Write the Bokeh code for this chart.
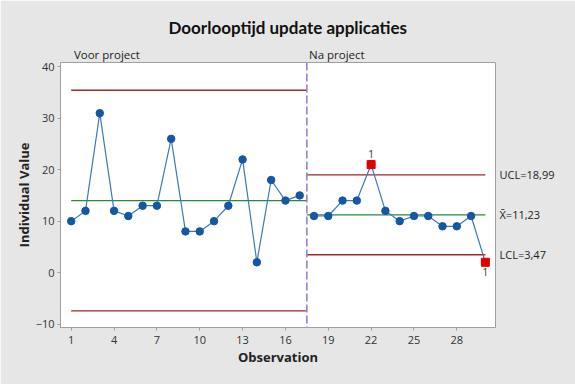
from bokeh.plotting import figure
from bokeh.models import Range1d, FixedTicker, Span, Label, LinearAxis
from bokeh.embed import file_html
from bokeh.resources import INLINE

# ---- data ----
chart_title = "Doorlooptijd update applicaties"
stage_names = ["Voor project", "Na project"]
obs_before = list(range(1, 18))
val_before = [10, 12, 31, 12, 11, 13, 13, 26, 8, 8, 10, 13, 22, 2, 18, 14, 15]
obs_after = list(range(18, 31))
val_after = [11, 11, 14, 14, 21, 12, 10, 11, 11, 9, 9, 11, 2]
stage_start = [1, 17.5]
stage_end = [17.5, 30]
ucl = [35.45, 18.99]
center = [14.0, 11.23]
lcl = [-7.45, 3.47]
flag_obs = [22, 30]
flag_val = [21, 2]
flag_text = ["1", "1"]
x_ticks = [1, 4, 7, 10, 13, 16, 19, 22, 25, 28]
y_ticks = [-10, 0, 10, 20, 30, 40]
stage_split = 17.5

FONT = "Open Sans"
XS, XE = 0.25, 30.71
YS, YE = -10.68, 40.85

p = figure(width=575, height=384, output_backend="svg", toolbar_location=None,
           x_range=Range1d(XS, XE), y_range=Range1d(YS, YE),
           min_border_left=60, min_border_right=80, min_border_top=62, min_border_bottom=57)
p.border_fill_color = "#e6e6e6"
p.background_fill_color = "white"
p.outline_line_color = "#a0a0a0"
p.grid.visible = False

# title
p.title.text = chart_title
p.title.align = "left"
p.title.offset = 108
p.title.text_font = "Lato"
p.title.text_font_size = "17px"
p.title.text_font_style = "bold"
p.title.text_color = "#111111"
p.title.standoff = 11

for ax in (p.xaxis[0], p.yaxis[0]):
    ax.axis_line_color = "#a0a0a0"
    ax.major_tick_line_color = "#a0a0a0"
    ax.major_tick_out = 3
    ax.major_tick_in = 0
    ax.minor_tick_line_color = None
    ax.major_label_text_font = FONT
    ax.major_label_text_font_size = "11px"
    ax.major_label_text_color = "#333333"
    ax.axis_label_text_font = FONT
    ax.axis_label_text_font_size = "13px"
    ax.axis_label_text_font_style = "bold"
    ax.axis_label_text_color = "#222222"

p.xaxis.ticker = FixedTicker(ticks=x_ticks)
p.yaxis.ticker = FixedTicker(ticks=y_ticks)
p.xaxis.axis_label = "Observation"
p.yaxis.axis_label = "Individual Value"
p.xaxis.major_label_standoff = 5
p.xaxis.axis_label_standoff = 1
p.yaxis.major_label_standoff = 3
p.yaxis.axis_label_standoff = 0

# stage names on top (via an axis with text labels)
stage_label_x = [stage_start[0] + 2.5, stage_split + 2.1]
top_axis = LinearAxis(ticker=FixedTicker(ticks=stage_label_x),
                      major_label_overrides={x: n for x, n in zip(stage_label_x, stage_names)},
                      axis_line_color=None, major_tick_line_color=None, minor_tick_line_color=None,
                      major_tick_out=0, major_tick_in=0, major_label_standoff=1,
                      major_label_text_font=FONT, major_label_text_font_size="11.5px",
                      major_label_text_color="#222222")
p.add_layout(top_axis, "above")

def fmt(v):
    return f"{v:.2f}".replace(".", ",")

right_vals = [ucl[1], center[1], lcl[1]]
right_texts = ["UCL=" + fmt(ucl[1]), "X\u0304=" + fmt(center[1]), "LCL=" + fmt(lcl[1])]
right_axis = LinearAxis(ticker=FixedTicker(ticks=right_vals),
                        major_label_overrides={v: t for v, t in zip(right_vals, right_texts)},
                        axis_line_color=None, major_tick_line_color=None, minor_tick_line_color=None,
                        major_tick_out=0, major_tick_in=0, major_label_standoff=4,
                        major_label_text_font=FONT, major_label_text_font_size="11px",
                        major_label_text_color="#222222")
p.add_layout(right_axis, "right")

# control limit lines
red = "#a3262a"
green = "#2a8a3a"
p.segment(x0=stage_start, x1=stage_end, y0=ucl, y1=ucl, line_color=red, line_width=1.3)
p.segment(x0=stage_start, x1=stage_end, y0=lcl, y1=lcl, line_color=red, line_width=1.3)
p.segment(x0=stage_start, x1=stage_end, y0=center, y1=center, line_color=green, line_width=1.3)

p.add_layout(Span(location=stage_split, dimension="height", line_color="#9c80cc",
                  line_width=1.6, line_dash="8 3"))

blue_line = "#3d78ba"
blue_pt = "#1457a4"
for xs, ys in ((obs_before, val_before), (obs_after, val_after)):
    p.line(xs, ys, line_color=blue_line, line_width=1.2)
    p.scatter(xs, ys, size=7.5, marker="circle", fill_color=blue_pt, line_color=blue_pt)

p.scatter(flag_obs, flag_val, size=8, marker="square", fill_color="#e00000", line_color="#e00000")
p.add_layout(Label(x=flag_obs[0], y=flag_val[0], text=flag_text[0], text_align="center",
                   text_baseline="middle", y_offset=11, text_font=FONT, text_font_size="10px",
                   text_color="#333333"))
p.add_layout(Label(x=flag_obs[1], y=flag_val[1], text=flag_text[1], text_align="center",
                   text_baseline="middle", y_offset=-10, text_font=FONT, text_font_size="10px",
                   text_color="#333333"))

open("out.html", "w").write(file_html(p, INLINE))
